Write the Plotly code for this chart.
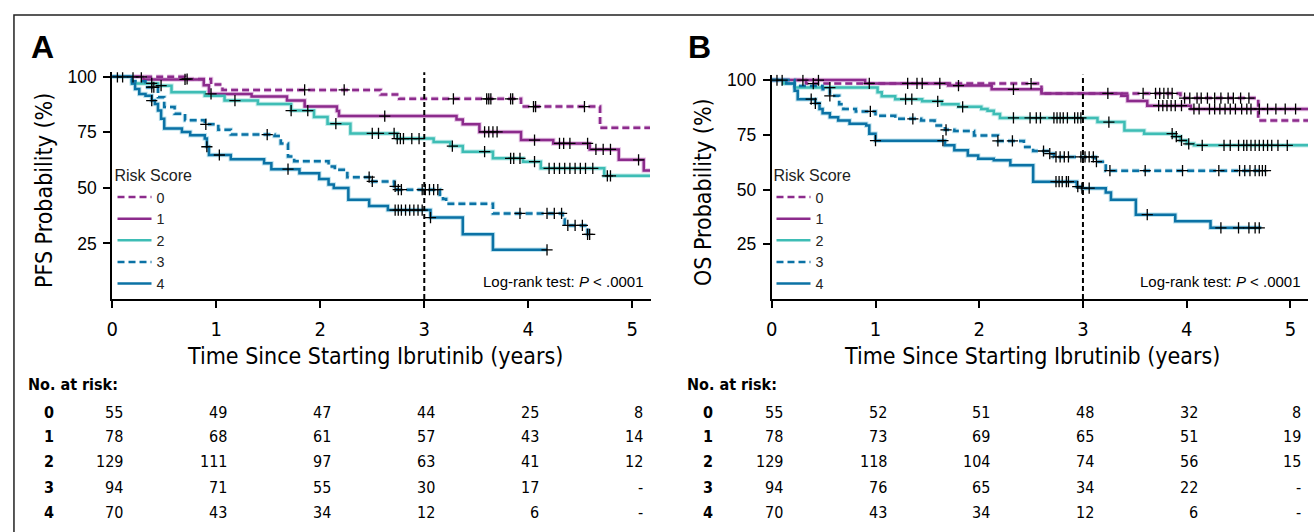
import numpy as np
import plotly.graph_objects as go

W, H = 1314, 532

# ---------------- DATA ----------------
risk_labels = ["0", "1", "2", "3", "4"]
year_ticks = [0, 1, 2, 3, 4, 5]

# Panel A: PFS
pfs0_t = [0, 0.70, 0.95, 1.06, 2.58, 2.76, 3.93, 4.69, 5.17]
pfs0_v = [100, 99.0, 96.5, 94.1, 92.0, 90.1, 86.6, 77.1, 77.1]
pfs0_c = [0.20, 0.28, 0.72, 1.85, 2.23, 3.28, 3.60, 3.62, 3.64, 3.83, 3.85, 4.05, 4.07, 4.54]

pfs1_t = [0, 0.30, 0.88, 0.93, 1.34, 1.68, 1.85, 2.16, 2.18, 3.31, 3.37, 3.53, 3.93, 4.24, 4.59, 4.87, 5.11, 5.17]
pfs1_v = [100, 98.8, 96.2, 92.3, 91.1, 89.3, 86.6, 84.6, 82.3, 80.8, 78.6, 75.2, 71.5, 70.0, 67.3, 62.6, 57.8, 57.8]
pfs1_c = [0.05, 0.70, 0.95, 2.62, 3.58, 3.62, 3.66, 3.70, 4.06, 4.30, 4.34, 4.40, 4.57, 4.65, 4.72, 4.79, 5.06]

pfs2_t = [0, 0.19, 0.44, 0.57, 0.89, 1.08, 1.40, 1.72, 1.94, 2.07, 2.29, 2.74, 3.09, 3.25, 3.37, 3.66, 3.95, 4.12, 4.73, 5.17]
pfs2_v = [100, 97.0, 96.0, 93.0, 91.5, 89.3, 87.8, 84.8, 81.9, 78.9, 74.5, 72.2, 70.7, 68.8, 66.3, 63.3, 61.8, 58.8, 55.4, 55.4]
pfs2_c = [0.10, 0.38, 0.47, 1.18, 1.72, 1.88, 2.15, 2.50, 2.56, 2.71, 2.74, 2.77, 2.80, 2.88, 2.95, 3.27, 3.58,
          3.83, 3.86, 3.92, 4.06, 4.20, 4.25, 4.30, 4.35, 4.40, 4.45, 4.50, 4.55, 4.62, 4.76, 4.79]

pfs3_t = [0, 0.19, 0.32, 0.44, 0.50, 0.60, 0.70, 0.89, 1.02, 1.14, 1.56, 1.62, 1.69, 1.75, 2.08, 2.14, 2.26,
          2.50, 2.71, 2.74, 3.15, 3.18, 3.21, 3.66, 4.33, 4.35, 4.57, 4.59]
pfs3_v = [100, 98.0, 95.3, 90.8, 86.4, 83.4, 80.4, 78.6, 76.2, 74.0, 73.3, 70.0, 64.1, 62.0, 59.6, 58.1, 54.8,
          52.9, 50.7, 49.2, 46.9, 45.0, 42.9, 38.5, 35.8, 33.1, 29.1, 29.1]
pfs3_c = [0.38, 0.40, 0.90, 1.49, 2.47, 2.50, 2.72, 2.75, 2.78, 2.98, 3.01, 3.05, 3.09, 3.13, 3.92, 4.18, 4.25,
          4.32, 4.38, 4.45, 4.52, 4.57, 4.59]

pfs4_t = [0, 0.19, 0.22, 0.26, 0.32, 0.38, 0.41, 0.44, 0.47, 0.50, 0.67, 0.75, 0.89, 0.91, 0.93, 1.14, 1.46,
          1.53, 1.80, 1.99, 2.08, 2.13, 2.27, 2.47, 2.65, 3.06, 3.37, 3.66, 4.18]
pfs4_v = [100, 97.0, 94.5, 92.3, 91.5, 89.3, 87.8, 84.8, 81.1, 76.7, 75.2, 73.7, 72.2, 68.5, 64.8, 62.9, 61.1,
          58.4, 56.6, 54.0, 51.5, 49.9, 44.7, 41.8, 40.0, 36.6, 29.1, 22.1, 22.1]
pfs4_c = [0.38, 0.91, 1.03, 1.69, 2.72, 2.75, 2.78, 2.82, 2.86, 2.90, 2.94, 2.98, 3.06, 4.18]

# Panel B: OS
os0_t = [0, 0.33, 2.60, 3.94, 4.69, 5.17]
os0_v = [100, 98.4, 93.9, 91.8, 81.5, 81.5]
os0_c = [0.10, 0.40, 2.50, 3.24, 3.58, 3.70, 3.74, 3.78, 3.82, 3.86, 3.98, 4.03, 4.10, 4.14, 4.20, 4.27, 4.33,
         4.40, 4.45, 4.52, 4.60]

os1_t = [0, 0.90, 1.70, 2.12, 2.60, 3.37, 3.43, 3.62, 4.04, 5.17]
os1_v = [100, 98.5, 97.5, 95.8, 93.9, 92.8, 90.5, 88.3, 86.8, 86.8]
os1_c = [0.05, 0.30, 0.45, 0.94, 1.31, 1.40, 1.45, 1.62, 1.80, 2.33, 3.73, 3.77, 3.81, 3.85, 3.89, 3.95, 4.07,
         4.12, 4.22, 4.27, 4.32, 4.37, 4.42, 4.47, 4.53, 4.58, 4.62, 4.70, 4.78, 4.86, 4.95, 5.05]

os2_t = [0, 0.11, 0.22, 1.02, 1.06, 1.19, 1.45, 1.64, 1.80, 2.02, 2.08, 2.14, 2.20, 3.14, 3.40, 3.59, 3.88,
         3.94, 4.00, 4.07, 5.17]
os2_v = [100, 98.4, 96.6, 94.5, 92.6, 91.3, 90.3, 89.0, 87.8, 86.8, 86.0, 84.5, 82.7, 80.8, 77.0, 75.5, 74.2,
         72.4, 70.9, 70.2, 70.2]
os2_c = [0.56, 1.29, 1.35, 1.60, 1.84, 2.33, 2.49, 2.55, 2.59, 2.72, 2.75, 2.78, 2.81, 2.85, 2.92, 2.95, 2.98,
         3.25, 3.86, 3.90, 3.95, 4.02, 4.15, 4.36, 4.42, 4.50, 4.55, 4.58, 4.62, 4.66, 4.70, 4.74, 4.78, 4.82,
         4.88, 4.97]

os3_t = [0, 0.22, 0.49, 0.56, 0.65, 0.69, 0.81, 1.00, 1.19, 1.44, 1.57, 1.67, 1.76, 1.95, 2.18, 2.43, 2.52,
         2.68, 2.72, 3.12, 3.22, 4.76]
os3_v = [100, 97.3, 95.8, 92.8, 89.0, 86.8, 85.7, 83.7, 82.3, 81.5, 79.2, 77.3, 76.7, 74.7, 72.2, 69.4, 67.6,
         66.4, 64.9, 62.7, 58.6, 58.6]
os3_c = [0.56, 0.95, 1.36, 1.68, 2.18, 2.32, 2.62, 2.68, 2.74, 2.78, 2.82, 2.86, 2.98, 3.02, 3.06, 3.10, 3.13,
         3.26, 3.60, 3.96, 4.31, 4.51, 4.56, 4.61, 4.66, 4.70, 4.73, 4.76]

os4_t = [0, 0.14, 0.22, 0.25, 0.42, 0.46, 0.49, 0.56, 0.64, 0.75, 0.91, 0.94, 1.00, 1.67, 1.76, 1.89, 1.99,
         2.14, 2.30, 2.52, 2.94, 2.99, 3.22, 3.27, 3.51, 3.89, 4.23, 4.72]
os4_v = [100, 98.4, 95.1, 91.3, 89.4, 86.8, 84.8, 83.0, 81.5, 80.0, 79.2, 75.5, 72.3, 70.2, 67.9, 65.6, 64.1,
         63.4, 61.1, 53.6, 51.3, 50.6, 48.6, 45.3, 38.5, 35.5, 32.5, 32.5]
os4_c = [0.38, 0.42, 1.00, 1.65, 2.74, 2.77, 2.80, 2.84, 2.86, 2.95, 2.99, 3.06, 3.62, 4.33, 4.50, 4.60, 4.66, 4.70]

# Number at risk
pfs_risk = [["55", "49", "47", "44", "25", "8"],
            ["78", "68", "61", "57", "43", "14"],
            ["129", "111", "97", "63", "41", "12"],
            ["94", "71", "55", "30", "17", "-"],
            ["70", "43", "34", "12", "6", "-"]]
os_risk = [["55", "52", "51", "48", "32", "8"],
           ["78", "73", "69", "65", "51", "19"],
           ["129", "118", "104", "74", "56", "15"],
           ["94", "76", "65", "34", "22", "-"],
           ["70", "43", "34", "12", "6", "-"]]

# ---------------- STYLE ----------------
PURPLE = "#8C2B8C"
TEAL = "#3EBDB5"
BLUE = "#0B72A5"
HALO = ["#E6C6E6", "#E6C6E6", "#C4ECEA", "#BFE3EE", "#BFE3EE"]
colors = [PURPLE, PURPLE, TEAL, BLUE, BLUE]
dashes = ["7px,4px", "solid", "solid", "7px,4px", "solid"]
COND = "Liberation Sans Narrow, Arial Narrow, DejaVu Sans Condensed, sans-serif"
REG = "Liberation Sans, Arial, Helvetica, sans-serif"


def px(x):
    return x / W


def py(y):
    return 1 - y / H


def step_at(ts, vs, tc):
    ts = np.asarray(ts)
    vs = np.asarray(vs)
    idx = np.searchsorted(ts, np.asarray(tc), side="right") - 1
    return vs[np.clip(idx, 0, len(vs) - 1)]


fig = go.Figure()

panels = [
    dict(curves=[(pfs0_t, pfs0_v, pfs0_c), (pfs1_t, pfs1_v, pfs1_c), (pfs2_t, pfs2_v, pfs2_c),
                 (pfs3_t, pfs3_v, pfs3_c), (pfs4_t, pfs4_v, pfs4_c)],
         xa="x", ya="y", legend="legend", tag="A"),
    dict(curves=[(os0_t, os0_v, os0_c), (os1_t, os1_v, os1_c), (os2_t, os2_v, os2_c),
                 (os3_t, os3_v, os3_c), (os4_t, os4_v, os4_c)],
         xa="x2", ya="y2", legend="legend2", tag="B"),
]

for p in panels:
    for k, (ts, vs, cs) in enumerate(p["curves"]):
        fig.add_trace(go.Scatter(x=ts, y=vs, mode="lines", line_shape="hv",
                                 line=dict(color=HALO[k], width=4.5, dash=dashes[k]),
                                 xaxis=p["xa"], yaxis=p["ya"], showlegend=False, hoverinfo="skip"))
    for k, (ts, vs, cs) in enumerate(p["curves"]):
        fig.add_trace(go.Scatter(x=ts, y=vs, mode="lines", line_shape="hv",
                                 line=dict(color=colors[k], width=2.5, dash=dashes[k]),
                                 name=risk_labels[k], legend=p["legend"],
                                 legendgroup=p["tag"] + risk_labels[k],
                                 xaxis=p["xa"], yaxis=p["ya"]))
    for k, (ts, vs, cs) in enumerate(p["curves"]):
        fig.add_trace(go.Scatter(x=cs, y=step_at(ts, vs, cs), mode="markers",
                                 marker=dict(symbol="cross-thin", size=8,
                                             line=dict(color="black", width=1.3)),
                                 xaxis=p["xa"], yaxis=p["ya"], showlegend=False, hoverinfo="skip"))

axis_common = dict(showgrid=False, zeroline=False, showline=True, linecolor="black", linewidth=2,
                   ticks="outside", ticklen=7, tickwidth=1.5, tickcolor="black")

layout_axes = dict(
    xaxis=dict(domain=[px(106.7), px(648)], range=[0, 5.18], tickvals=year_ticks, anchor="y",
               ticklabelstandoff=4,
               tickfont=dict(family=COND, size=20, color="black"), **axis_common),
    yaxis=dict(domain=[py(296.7), py(68)], range=[0, 102], tickvals=[25, 50, 75, 100], anchor="x",
               ticklabelstandoff=3,
               tickfont=dict(family=REG, size=17.5, color="black"), **axis_common),
    xaxis2=dict(domain=[px(769.3), px(1308)], range=[0, 5.17], tickvals=year_ticks, anchor="y2",
                ticklabelstandoff=4,
                tickfont=dict(family=COND, size=20, color="black"), **axis_common),
    yaxis2=dict(domain=[py(296.7), py(70.3)], range=[0, 102.5], tickvals=[25, 50, 75, 100], anchor="x2",
                ticklabelstandoff=3,
                tickfont=dict(family=REG, size=17.5, color="black"), **axis_common),
)

legend_common = dict(bgcolor="rgba(0,0,0,0)", borderwidth=0, xanchor="left", yanchor="top",
                     font=dict(family=REG, size=14.3, color="#222"), tracegroupgap=0,
                     title=dict(text="Risk Score", font=dict(family=REG, size=16, color="#222")),
                     itemwidth=34)

annotations = []
shapes = []

# outer frame
shapes.append(dict(type="rect", xref="paper", yref="paper", x0=px(8), x1=px(1330), y0=py(545), y1=py(10),
                   line=dict(color="#222", width=1.5), fillcolor="rgba(0,0,0,0)", layer="below"))

panel_meta = [
    dict(letter="A", lx=37, ytitle="PFS Probability (%)", ytx=38, yty=187, xtx=371, lr=643,
         xa="x", ya="y", risk=pfs_risk, nax=20, rowx=43),
    dict(letter="B", lx=697, ytitle="OS Probability (%)", ytx=700, yty=189, xtx=1031, lr=1303,
         xa="x2", ya="y2", risk=os_risk, nax=682, rowx=705),
]
row_y = [411, 436, 461, 487, 512]


def ann(text, x, y, size, family, xanchor="center", xref="paper", xshift=0, **kw):
    return dict(text=text, x=x, y=y, xref=xref, yref="paper", xanchor=xanchor, yanchor="middle",
                xshift=xshift, showarrow=False, font=dict(family=family, size=size, color="black"), **kw)


for m in panel_meta:
    annotations.append(ann("<b>" + m["letter"] + "</b>", px(m["lx"]), py(42), 32, REG))
    annotations.append(ann(m["ytitle"], px(m["ytx"]), py(m["yty"]), 23, COND, textangle=-90))
    annotations.append(ann("Time Since Starting Ibrutinib (years)", px(m["xtx"]), py(354), 23, COND))
    annotations.append(ann("Log-rank test: <i>P</i> < .0001", px(m["lr"]), py(279), 15, REG,
                           xanchor="right"))
    annotations.append(ann("<b>No. at risk:</b>", px(m["nax"]), py(383), 16, COND, xanchor="left"))
    for k, row in enumerate(m["risk"]):
        annotations.append(ann("<b>" + risk_labels[k] + "</b>", px(m["rowx"]), py(row_y[k]), 16, COND))
        for j, val in enumerate(row):
            annotations.append(ann(val, year_ticks[j], py(row_y[k]), 16, COND, xanchor="right",
                                   xref=m["xa"], xshift=13))
    shapes.append(dict(type="line", xref=m["xa"], yref=m["ya"] + " domain", x0=3, x1=3, y0=0, y1=1,
                       line=dict(color="black", width=2, dash="5px,3px")))

fig.update_layout(
    width=W, height=H, autosize=False,
    margin=dict(l=0, r=0, t=0, b=0),
    paper_bgcolor="white", plot_bgcolor="white",
    legend=dict(x=px(107), y=py(157), **legend_common),
    legend2=dict(x=px(769), y=py(157), **legend_common),
    annotations=annotations, shapes=shapes,
    **layout_axes,
)

fig.write_html("out.html", config={"displayModeBar": False},
               post_script="document.body.style.margin='0px';document.body.style.overflow='hidden';")
